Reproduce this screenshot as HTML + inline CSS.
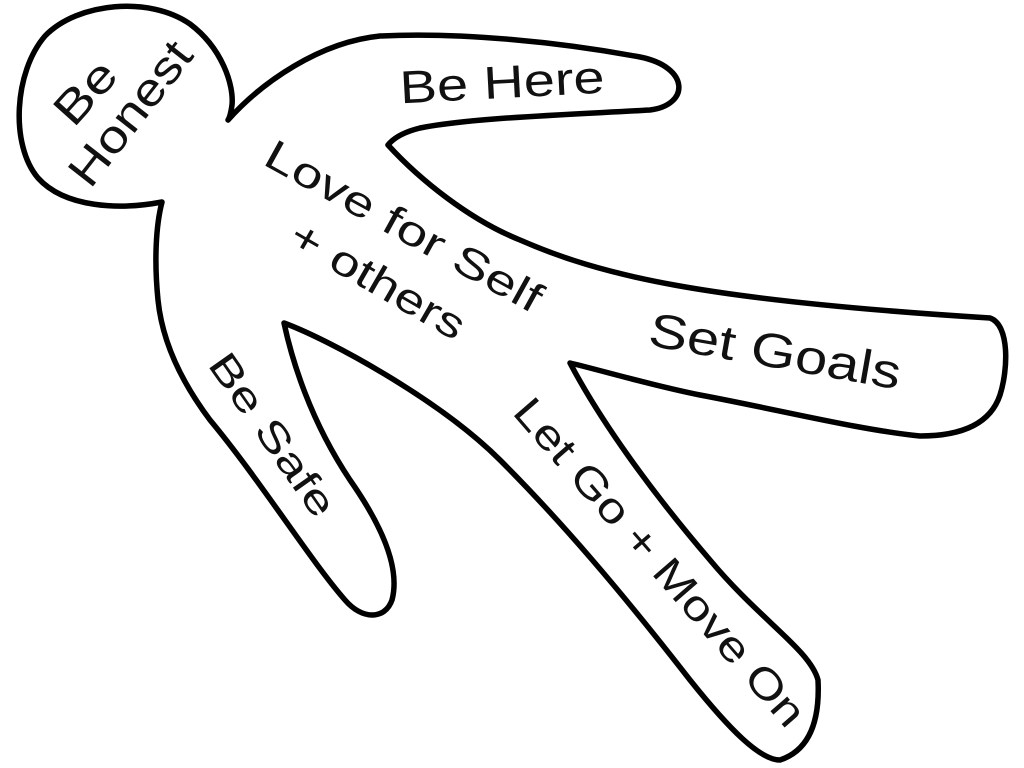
<!DOCTYPE html>
<html><head><meta charset="utf-8"><style>
html,body{margin:0;padding:0;background:#fff;}
svg{display:block;}
text{font-family:"Liberation Sans",sans-serif;fill:#111;}
</style></head><body>
<svg width="1024" height="768" viewBox="0 0 1024 768" xmlns="http://www.w3.org/2000/svg">
<path d="M228,120 C262,82 320,42 380,36 C460,32 560,42 640,57 C690,67 690,105 650,110 C560,115 470,118 420,128 C400,133 392,140 388,145
C420,180 470,220 520,240 C600,275 700,300 990,318 C1010,325 1008,370 1000,395 C990,425 960,436 920,436 C860,430 780,410 700,395 C650,385 600,370 570,363
C600,420 650,490 710,560 C760,620 810,650 818,680 C820,720 810,750 780,760 C760,760 730,730 690,680 C620,590 560,520 500,460 C440,400 330,340 284,323
C292,360 310,420 350,480 C385,530 400,570 392,600 C385,620 362,620 345,600 C310,560 260,480 210,420 C180,380 162,340 158,300 C154,260 156,225 162,202
C120,210 65,208 38,178 C10,145 14,72 45,36 C78,2 150,-4 190,24 C222,48 234,85 232,105 C231,112 230,117 228,120 Z"
fill="#fff" stroke="#000" stroke-width="5.5" stroke-linejoin="round"/>
<g font-size="46">
<text x="502" y="82" text-anchor="middle" dominant-baseline="central" textLength="205" lengthAdjust="spacingAndGlyphs" transform="rotate(-3 502 82)">Be Here</text>
<text x="85" y="92" text-anchor="middle" dominant-baseline="central" textLength="70" lengthAdjust="spacingAndGlyphs" transform="rotate(-48 85 92)">Be</text>
<text x="130" y="113" text-anchor="middle" dominant-baseline="central" textLength="170" lengthAdjust="spacingAndGlyphs" transform="rotate(-52 130 113)">Honest</text>
<text x="404" y="226" text-anchor="middle" dominant-baseline="central" textLength="310" lengthAdjust="spacingAndGlyphs" transform="rotate(29 404 226)" font-size="42">Love for Self</text>
<text x="378" y="280" text-anchor="middle" dominant-baseline="central" textLength="195" lengthAdjust="spacingAndGlyphs" transform="rotate(30 378 280)" font-size="42">+ others</text>
<text x="775" y="352" text-anchor="middle" dominant-baseline="central" textLength="255" lengthAdjust="spacingAndGlyphs" transform="rotate(10 775 352)" font-size="48">Set Goals</text>
<text x="272" y="435" text-anchor="middle" dominant-baseline="central" textLength="190" lengthAdjust="spacingAndGlyphs" transform="rotate(55 272 435)" font-size="40">Be Safe</text>
<text x="660" y="562" text-anchor="middle" dominant-baseline="central" textLength="420" lengthAdjust="spacingAndGlyphs" transform="rotate(49 660 562)" font-size="42">Let Go + Move On</text>
</g>
</svg>
</body></html>
